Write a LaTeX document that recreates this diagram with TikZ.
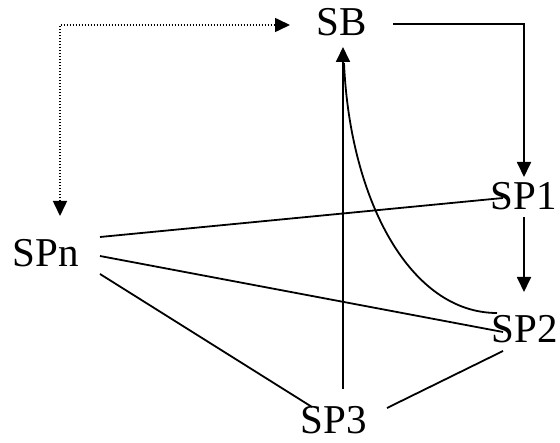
\documentclass[tikz,border=0pt]{standalone}
\usepackage{fontspec}
\setmainfont{Liberation Serif}
\usetikzlibrary{arrows.meta,calc}
\tikzset{
  lbl/.style={inner sep=0pt, outer sep=0pt, anchor=base, font=\fontsize{41}{41}\selectfont},
  conn/.style={line width=1.8pt},
  tip/.style={-{Triangle[length=15pt,width=14pt]}},
  dots/.style={line width=1.6pt, dash pattern=on 1.6pt off 1.4pt},
}
\begin{document}
\begin{tikzpicture}[x=1pt,y=-1pt]
\useasboundingbox (0,0) rectangle (560,443);
\node[lbl] (SB)  at (342,36)  {SB};
\node[lbl] (SP1) at (524,210) {SP1};
\node[lbl] (SPn) at (46,267)  {SPn};
\node[lbl] (SP2) at (525,343) {SP2};
\node[lbl] (SP3) at (334,434) {SP3};
% dotted two-headed connector SPn <-> SB
\draw[dots, {Triangle[length=15pt,width=14pt]}-{Triangle[length=15pt,width=14pt]}]
  ($(SPn.base)+(14,-51)$) |- ($(SB.base)+(-52,-11)$);
% SB -> SP1
\draw[conn, tip] ($(SB.base)+(51,-12)$) -| ($(SP1.base)+(0,-33)$);
% SP1 -> SP2
\draw[conn, tip] ($(SP1.base)+(0,7)$) -- ($(SP2.base)+(-1,-51)$);
% SP3 -> SB
\draw[conn, tip] ($(SP3.base)+(9,-45)$) -- ($(SB.base)+(1,11)$);
% curve SB - SP2
\draw[conn] ($(SB.base)+(2,27)$) .. controls (350,200) and (410,313) .. ($(SP2.base)+(-28,-30)$);
% SPn lines
\draw[conn] ($(SPn.base)+(54,-30)$) -- ($(SP1.base)+(-21,-12)$);
\draw[conn] ($(SPn.base)+(54,-11)$) -- ($(SP2.base)+(-22,-11)$);
\draw[conn] ($(SPn.base)+(54,7)$) -- ($(SP3.base)+(-22,-27)$);
% SP3 - SP2
\draw[conn] ($(SP3.base)+(53,-26)$) -- ($(SP2.base)+(-22,8)$);
\end{tikzpicture}
\end{document}
